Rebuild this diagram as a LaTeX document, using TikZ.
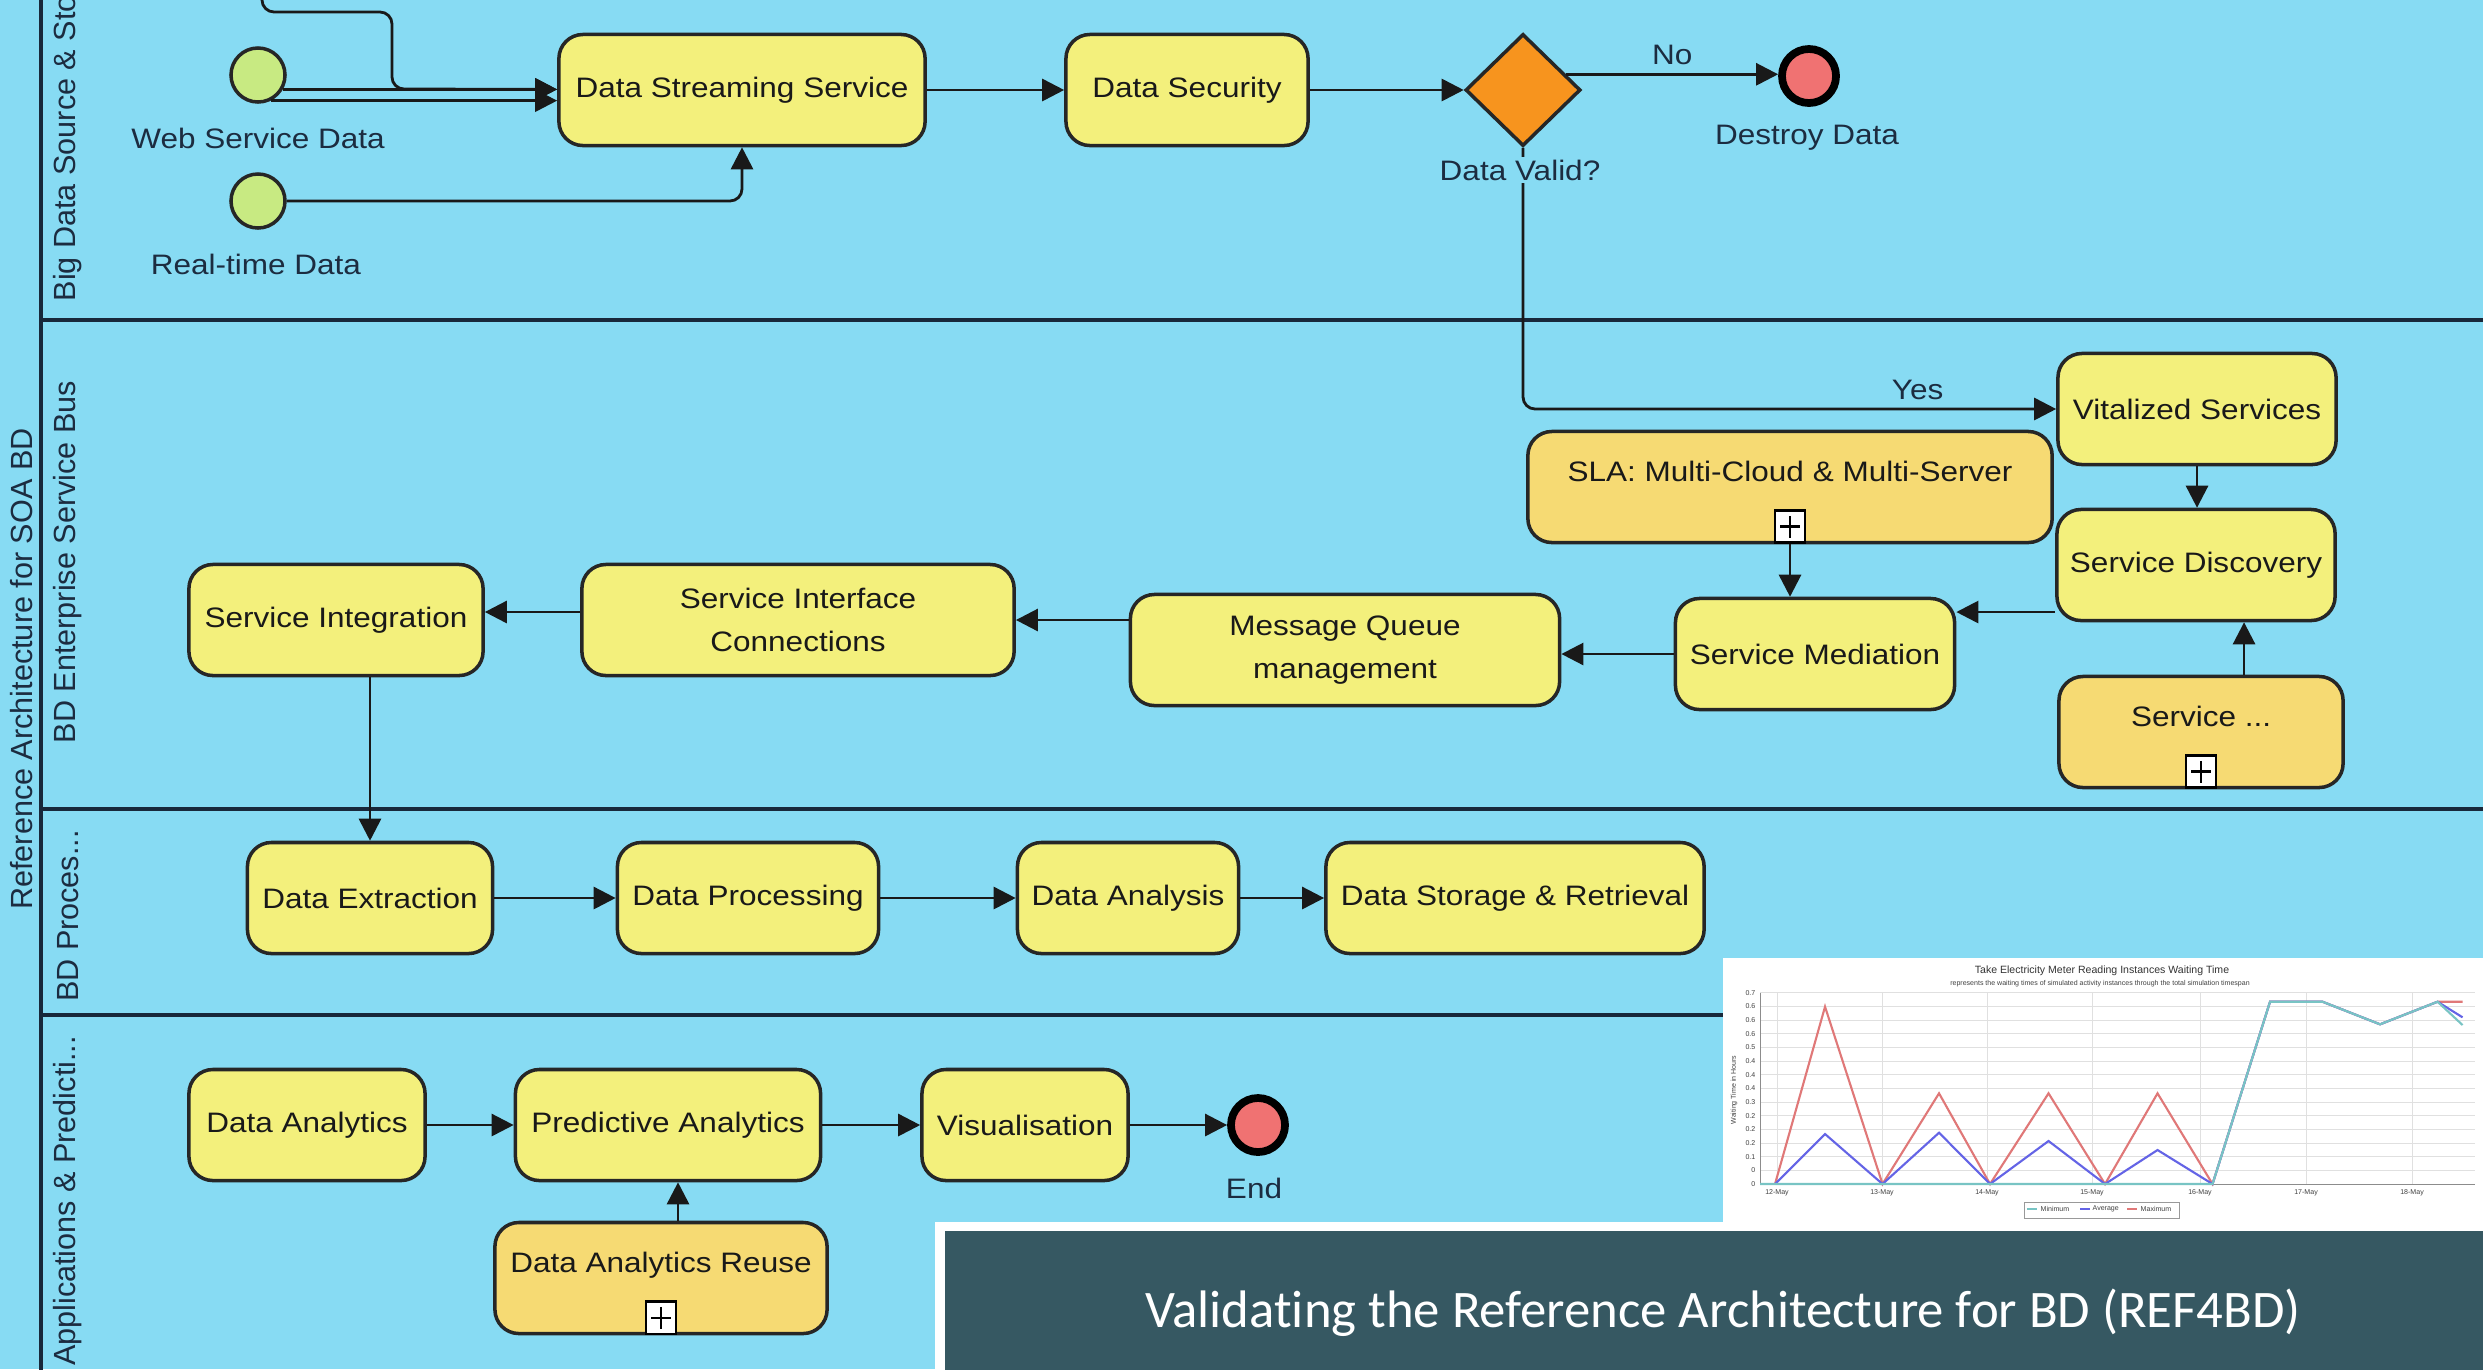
\documentclass[tikz,border=0pt]{standalone}
\usepackage{fontspec}
\setmainfont{Liberation Sans}
\newfontfamily\diagfont[FakeStretch=1.12]{Liberation Sans}
\newfontfamily\slidefont[Ligatures=NoCommon]{Carlito}
\usetikzlibrary{arrows.meta, shapes.geometric, positioning}

\definecolor{lanebg}{HTML}{87DBF3}
\definecolor{laneline}{HTML}{18283A}
\definecolor{labeltext}{HTML}{1C2C40}
\definecolor{taskfill}{HTML}{F3F07C}
\definecolor{subfill}{HTML}{F6DA73}
\definecolor{startfill}{HTML}{C8EA82}
\definecolor{endfill}{HTML}{F07272}
\definecolor{gatefill}{HTML}{F7941E}
\definecolor{titlebg}{HTML}{365862}
\definecolor{minline}{HTML}{78C4C4}
\definecolor{avgline}{HTML}{6464E6}
\definecolor{maxline}{HTML}{E07878}

\begin{document}
\begin{tikzpicture}[
		x=0.01cm, y=-0.01cm,
		task/.style={draw=black!85, line width=1pt, rounded corners=0.24cm, fill=taskfill, minimum height=1.11cm, inner sep=0, align=center, text=black!90, font=\diagfont\fontsize{8}{12}\selectfont},
		subtask/.style={task, fill=subfill, text height=0.22cm, text depth=0.34cm},
		expmark/.style={draw=black, line width=0.8pt, fill=white, minimum width=0.3cm, minimum height=0.32cm, inner sep=0, anchor=south,
			path picture={\draw[line width=0.8pt] ([yshift=-0.05cm]path picture bounding box.north) -- ([yshift=0.05cm]path picture bounding box.south) ([xshift=0.05cm]path picture bounding box.west) -- ([xshift=-0.05cm]path picture bounding box.east);}},
		startev/.style={circle, draw=black!85, line width=1pt, fill=startfill, minimum size=0.54cm, inner sep=0},
		endev/.style={circle, draw=black, line width=2.2pt, fill=endfill, minimum size=0.54cm, inner sep=0},
		gateway/.style={diamond, draw=black!85, line width=1pt, fill=gatefill, minimum width=1.15cm, minimum height=1.12cm, inner sep=0},
		evlabel/.style={inner sep=0.03cm, text=labeltext, font=\diagfont\fontsize{8}{10}\selectfont},
		lanelabel/.style={rotate=90, inner sep=0.02cm, text=labeltext, font=\fontsize{8.7}{10}\selectfont},
		lanesep/.style={draw=laneline, line width=0.9pt},
		flow/.style={draw=black!90, line width=0.8pt, -{Triangle[length=0.22cm, width=0.22cm]}},
		chartgrid/.style={draw=black!12, line width=0.2pt},
		chartlbl/.style={inner sep=0.01cm, text=black!75, font=\fontsize{2}{2.4}\selectfont}
	]
	\useasboundingbox (0, 0) rectangle (2483, 1369);
	\clip (0, 0) rectangle (2483, 1369);
	\fill[lanebg] (0, 0) rectangle (2483, 1369);

	\draw[lanesep] (41, -20) -- (41, 1400);
	\foreach \ly in {320, 809, 1015}
		\draw[lanesep] (41, \ly) -- (2500, \ly);

	\node (pool) [lanelabel] at (22, 669) {Reference Architecture for SOA BD};
	\node (lanesrc) [lanelabel, anchor=west] at (68, 304) {Big Data Source \& Sto};
	\node (laneesb) [lanelabel] at (68, 562) {BD Enterprise Service Bus};
	\node (laneproc) [lanelabel] at (68, 916) {BD Proces...};
	\node (laneapp) [lanelabel] at (68, 1201) {Applications \& Predicti...};

	\coordinate (feed) at (262, -30);
	\node (web) [startev] at (258, 75) {};
	\node (weblbl) [evlabel] at (258, 138) {Web Service Data};
	\node (rt) [startev] at (258, 201) {};
	\node (rtlbl) [evlabel] at (256, 264) {Real-time Data};
	\node (dss) [task, minimum width=3.66cm] at (742, 90) {Data Streaming Service};
	\node (dsec) [task, minimum width=2.42cm] at (1187, 90) {Data Security};
	\node (valid) [gateway] at (1523, 90) {};
	\node (destroy) [endev] at (1809, 76) {};
	\node (destroylbl) [evlabel] at (1807, 138) {Destroy Data};

	\node (vital) [task, minimum width=2.78cm] at (2197, 409) {Vitalized Services};
	\node (sla) [subtask, minimum width=5.24cm] at (1790, 487) {SLA: Multi-Cloud \& Multi-Server};
	\node (slamark) [expmark] at (sla.south) {};
	\node (disc) [task, minimum width=2.78cm] at (2196, 565) {Service Discovery};
	\node (med) [task, minimum width=2.79cm] at (1815, 654) {Service Mediation};
	\node (svc) [subtask, minimum width=2.84cm] at (2201, 732) {Service ...};
	\node (svcmark) [expmark] at (svc.south) {};
	\node (mq) [task, minimum width=4.29cm] at (1345, 650) {Message Queue\\management};
	\node (sic) [task, minimum width=4.32cm] at (798, 620) {Service Interface\\Connections};
	\node (sint) [task, minimum width=2.94cm] at (336, 620) {Service Integration};

	\node (extr) [task, minimum width=2.45cm] at (370, 898) {Data Extraction};
	\node (proc) [task, minimum width=2.61cm] at (748, 898) {Data Processing};
	\node (anal) [task, minimum width=2.21cm] at (1128, 898) {Data Analysis};
	\node (store) [task, minimum width=3.78cm] at (1515, 898) {Data Storage \& Retrieval};

	\node (dan) [task, minimum width=2.36cm] at (307, 1125) {Data Analytics};
	\node (pred) [task, minimum width=3.05cm] at (668, 1125) {Predictive Analytics};
	\node (vis) [task, minimum width=2.06cm] at (1025, 1125) {Visualisation};
	\node (fin) [endev] at (1258, 1125) {};
	\node (finlbl) [evlabel] at (1254, 1188) {End};
	\node (reuse) [subtask, minimum width=3.32cm] at (661, 1278) {Data Analytics Reuse};
	\node (reusemark) [expmark] at (reuse.south) {};

	\draw[flow, rounded corners=0.12cm] (feed) -- (262, 12) -- (392, 12) -- (392, 89) -- (dss.west |- web.-30);
	\draw[flow] (web.-30) -- (web.-30 -| dss.west);
	\draw[flow] (web.-63) -- (web.-63 -| dss.west);
	\draw[flow, rounded corners=0.12cm] (rt.east) -| (dss.south);
	\draw[flow] (dss) -- (dsec);
	\draw[flow] (dsec) -- (valid);
	\draw[flow] (valid.20) -- (valid.20 -| destroy.west) node (nolbl) [evlabel, midway, above=0.05cm] {No};
	\draw[flow, rounded corners=0.12cm] (valid.south) |- (vital.west) node (yeslbl) [evlabel, pos=0.87, above=0.05cm] {Yes};
	\node (validlbl) [evlabel, fill=lanebg] at (1520, 170) {Data Valid?};

	\draw[flow] (vital.south) -- (vital.south |- disc.north);
	\draw[flow] ([xshift=0.43cm]svc.north) -- ([xshift=0.43cm]svc.north |- disc.south);
	\draw[flow] ([yshift=-0.47cm]disc.west) -- ([yshift=-0.47cm]disc.west -| med.east);
	\draw[flow] (sla.south) -- (sla.south |- med.north);
	\draw[flow] (med.west) -- (med.west -| mq.east);
	\draw[flow] (mq.west |- sic.east) -- (sic.east);
	\draw[flow] ([yshift=0.08cm]sic.west) -- ([yshift=0.08cm]sic.west -| sint.east);
	\draw[flow] (extr.north |- sint.south) -- (extr.north);

	\draw[flow] (extr) -- (proc);
	\draw[flow] (proc) -- (anal);
	\draw[flow] (anal) -- (store);

	\draw[flow] (dan) -- (pred);
	\draw[flow] (pred) -- (vis);
	\draw[flow] (vis) -- (fin);
	\draw[flow] ([xshift=0.17cm]reuse.north) -- ([xshift=0.17cm]reuse.north |- pred.south);

	% chart
	\fill[white] (1723, 958) rectangle (2490, 1224);
	\node (charttitle) [inner sep=0, text=black!80, font=\fontsize{3}{3.6}\selectfont] at (2102, 971) {Take Electricity Meter Reading Instances Waiting Time};
	\node (chartsub) [chartlbl] at (2100, 984) {represents the waiting times of simulated activity instances through the total simulation timespan};
	\foreach \k in {0, ..., 14}
		\draw[chartgrid] (1760, {992.7+13.67*\k}) -- (2475, {992.7+13.67*\k});
	\foreach \lab [count=\k from 0] in {0.7, 0.6, 0.6, 0.6, 0.5, 0.4, 0.4, 0.4, 0.3, 0.2, 0.2, 0.2, 0.1, 0, 0}
		\node (ytick\k) [chartlbl, anchor=east] at (1757, {992.7+13.67*\k}) {\lab};
	\foreach \xx/\dd in {1777/12, 1882/13, 1987/14, 2092/15, 2200/16, 2306/17, 2412/18} {
		\draw[chartgrid] (\xx, 993) -- (\xx, 1184);
		\node (xtick\dd) [chartlbl] at (\xx, 1193) {\dd-May};
	}
	\node (yaxis) [chartlbl, rotate=90] at (1734, 1090) {Waiting Time in Hours};
	\draw[black!45, line width=0.3pt] (1760, 993) -- (1760, 1184) -- (2475, 1184);
	\draw[maxline, line width=0.6pt] plot coordinates {(1775, 1184) (1825, 1006.7) (1882.5, 1184) (1939, 1093.3) (1990, 1184) (2048.5, 1093.3) (2105, 1184) (2157.5, 1093.3) (2212.5, 1184) (2270, 1001.7) (2322.5, 1001.7) (2380, 1024.3) (2437.5, 1001.7) (2462.5, 1001.7)};
	\draw[avgline, line width=0.6pt] plot coordinates {(1775, 1184) (1825, 1134) (1882.5, 1184) (1939, 1132.7) (1990, 1184) (2048.5, 1141) (2105, 1184) (2157.5, 1150) (2212.5, 1184) (2270, 1001.7) (2322.5, 1001.7) (2380, 1024.3) (2437.5, 1001.7) (2462.5, 1017.3)};
	\draw[minline, line width=0.6pt] plot coordinates {(1760, 1184) (2212.5, 1184) (2270, 1001.7) (2322.5, 1001.7) (2380, 1024.3) (2437.5, 1001.7) (2462.5, 1025)};
	\draw[black!40, line width=0.3pt, fill=white] (2024, 1202) rectangle (2179, 1218);
	\draw[minline, line width=0.5pt] (2027, 1209) -- (2037, 1209);
	\node (legmin) [chartlbl, anchor=west] at (2039, 1209) {Minimum};
	\draw[avgline, line width=0.5pt] (2080, 1209) -- (2090, 1209);
	\node (legavg) [chartlbl, anchor=west] at (2091, 1209) {Average};
	\draw[maxline, line width=0.5pt] (2127, 1209) -- (2137, 1209);
	\node (legmax) [chartlbl, anchor=west] at (2139, 1209) {Maximum};

	% slide title
	\fill[white] (935, 1222) rectangle (2490, 1380);
	\fill[titlebg] (945, 1231) rectangle (2490, 1380);
	\node (slidetitle) [text=white, font=\slidefont\fontsize{15}{18}\selectfont] at (1723, 1313) {Validating the Reference Architecture for BD (REF4BD)};
\end{tikzpicture}
\end{document}
